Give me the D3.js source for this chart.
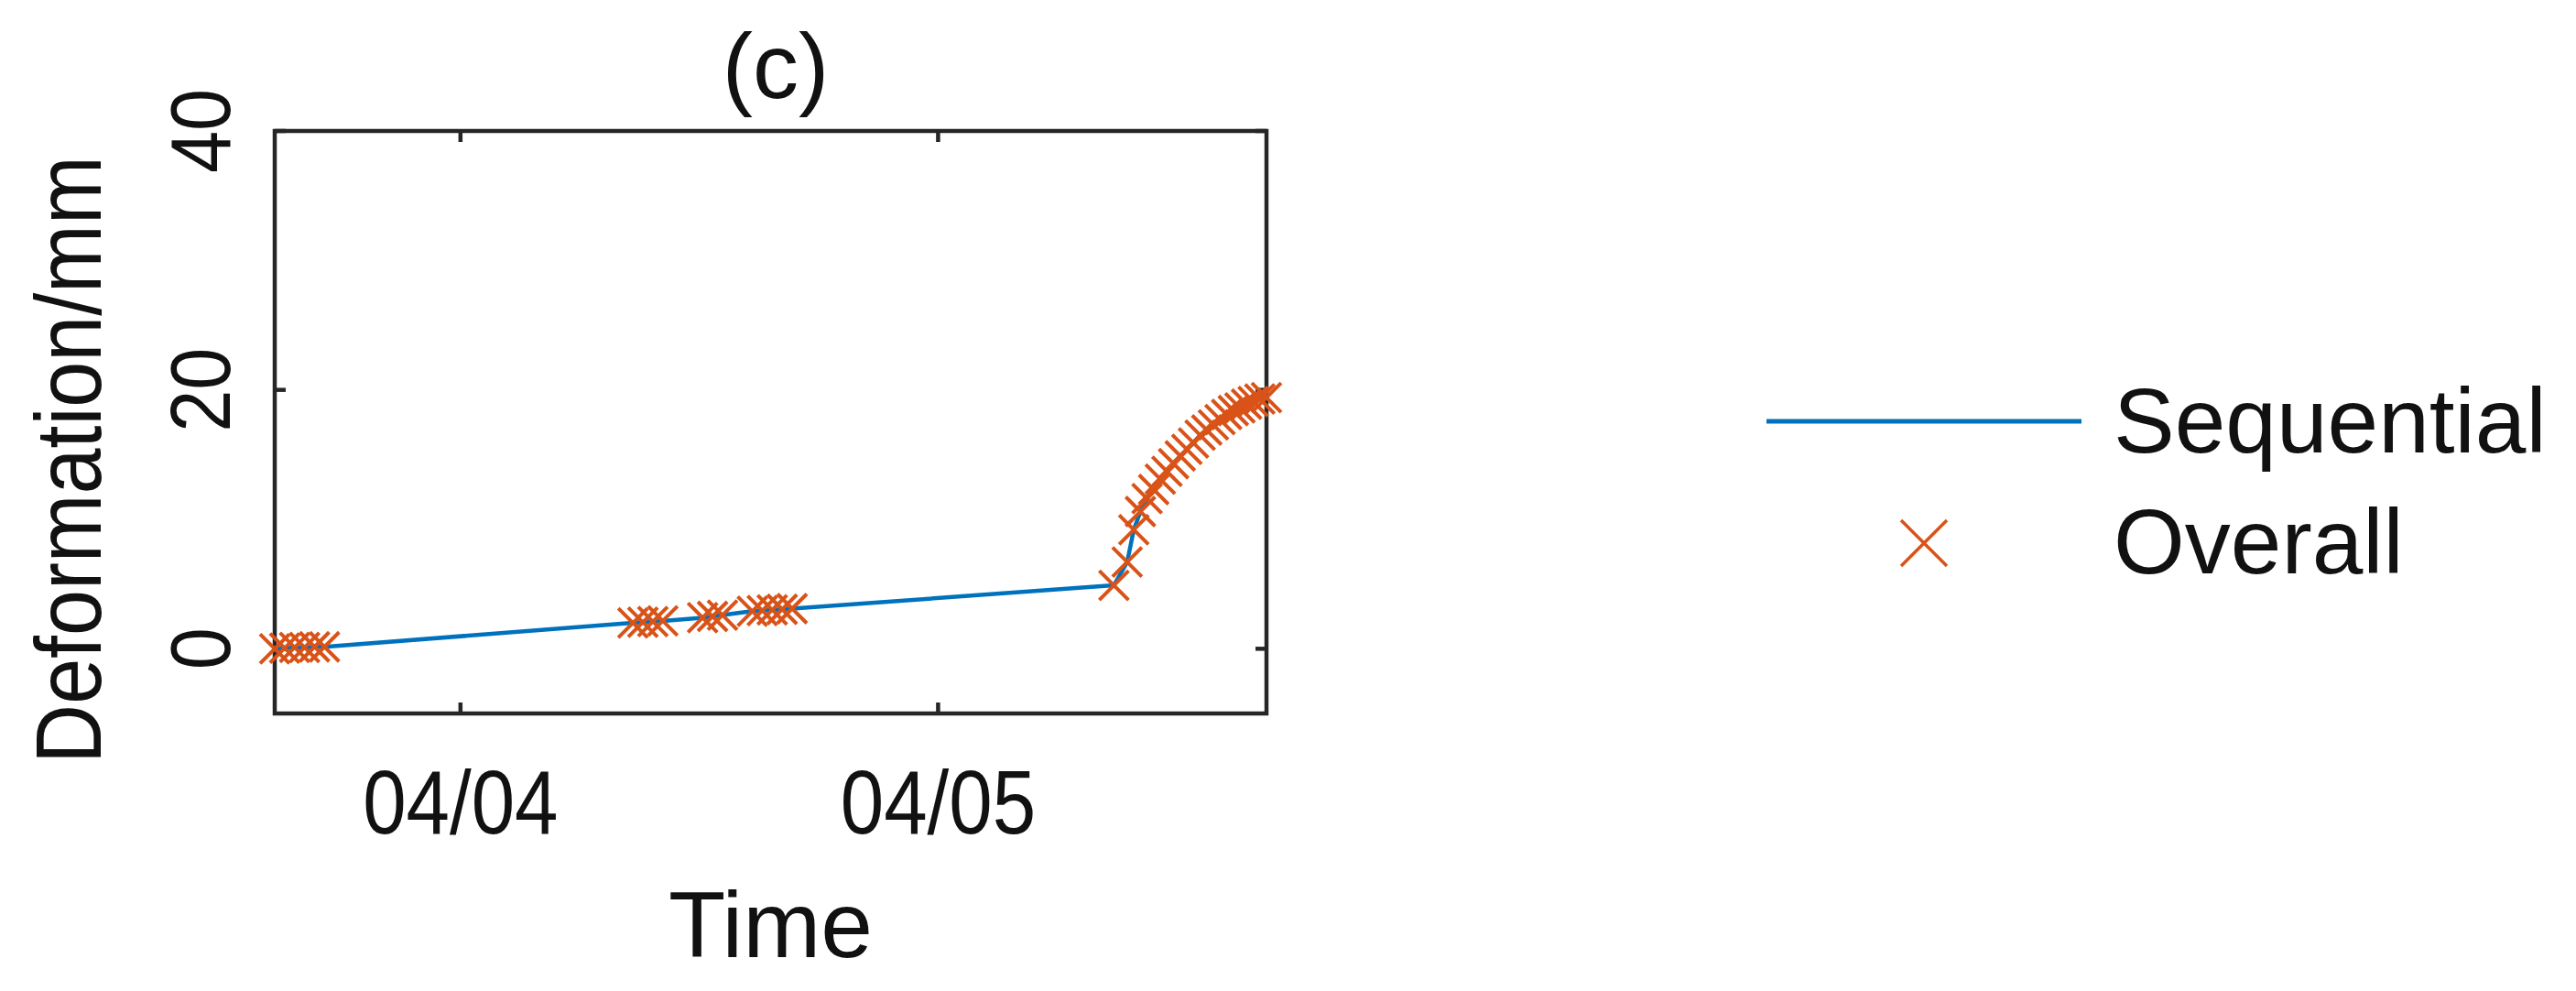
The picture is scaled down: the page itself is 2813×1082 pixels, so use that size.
<!DOCTYPE html>
<html>
<head>
<meta charset="utf-8">
<script src="https://cdn.jsdelivr.net/npm/d3@7"></script>
<style>
  html, body { margin: 0; padding: 0; background: #fff; }
  svg { display: block; }
  text { font-family: "Liberation Sans", Arial, Helvetica, sans-serif; fill: #111; }
</style>
</head>
<body>
<svg id="chart" width="2813" height="1082"></svg>
<script>
// ---- data ----
const times = [
  "04/03 14:40","04/03 15:10","04/03 15:40","04/03 16:10","04/03 16:40","04/03 17:10",
  "04/04 08:40","04/04 09:10","04/04 09:40","04/04 10:10",
  "04/04 12:10","04/04 12:40","04/04 13:10",
  "04/04 14:40","04/04 15:10","04/04 15:40","04/04 16:10","04/04 16:40",
  "04/05 08:50","04/05 09:30",
  "04/05 09:50","04/05 10:10","04/05 10:30","04/05 10:50","04/05 11:10","04/05 11:30",
  "04/05 11:50","04/05 12:10","04/05 12:30","04/05 12:50","04/05 13:10","04/05 13:30",
  "04/05 13:50","04/05 14:10","04/05 14:30","04/05 14:50","04/05 15:10","04/05 15:30",
  "04/05 15:50","04/05 16:10","04/05 16:30"
];
const sequential = [
  0.0, 0.05, 0.1, 0.1, 0.15, 0.15,
  2.0, 2.05, 2.1, 2.15,
  2.4, 2.5, 2.6,
  2.9, 2.95, 3.0, 3.05, 3.1,
  4.9, 6.7,
  9.2, 10.6, 11.6, 12.3, 13.1, 13.7,
  14.3, 14.9, 15.4, 15.9, 16.5, 16.9,
  17.3, 17.7, 18.1, 18.4, 18.6, 18.9,
  19.1, 19.3, 19.4
];
const overall = [
  0.0, 0.05, 0.1, 0.1, 0.15, 0.15,
  2.0, 2.05, 2.1, 2.15,
  2.4, 2.5, 2.6,
  2.9, 2.95, 3.0, 3.05, 3.1,
  4.9, 6.7,
  9.2, 10.6, 11.6, 12.3, 13.1, 13.7,
  14.3, 14.9, 15.4, 15.9, 16.5, 16.9,
  17.3, 17.7, 18.1, 18.4, 18.6, 18.9,
  19.1, 19.3, 19.4
];
const xTickTimes = ["04/04 00:00", "04/05 00:00"];
const xTickLabels = ["04/04", "04/05"];
const yTicks = [0, 20, 40];
const yTickLabels = ["0", "20", "40"];
const yDomain = [-5, 40];
const seriesNames = ["Sequential", "Overall"];
const titleText = "(c)";
const xLabelText = "Time";
const yLabelText = "Deformation/mm";

(function () {
  // ---- layout ----
  const parse = d3.timeParse("%m/%d %H:%M");
  const T = times.map(parse);
  const pL = 300, pR = 1383, pT = 143, pB = 779;
  const axisColor = "#262626";
  const blue = "#0072BD", orange = "#D95319";

  const svg = d3.select("#chart");
  const x = d3.scaleTime().domain(d3.extent(T)).range([pL, pR]);
  const y = d3.scaleLinear().domain(yDomain).range([pB, pT]);

  const tickLen = 12;
  const xt = xTickTimes.map(parse);

  // axes box (drawn below data)
  const g = svg.append("g");
  g.append("rect").attr("x", pL).attr("y", pT).attr("width", pR - pL).attr("height", pB - pT)
    .attr("fill", "none").attr("stroke", axisColor).attr("stroke-width", 4.5);

  // ticks (inward, mirrored on all sides)
  xt.forEach(t => {
    const px = x(t);
    g.append("line").attr("x1", px).attr("x2", px).attr("y1", pB).attr("y2", pB - tickLen)
      .attr("stroke", axisColor).attr("stroke-width", 4.5);
    g.append("line").attr("x1", px).attr("x2", px).attr("y1", pT).attr("y2", pT + tickLen)
      .attr("stroke", axisColor).attr("stroke-width", 4.5);
  });
  yTicks.forEach(v => {
    const py = y(v);
    g.append("line").attr("x1", pL).attr("x2", pL + tickLen).attr("y1", py).attr("y2", py)
      .attr("stroke", axisColor).attr("stroke-width", 4.5);
    g.append("line").attr("x1", pR).attr("x2", pR - tickLen).attr("y1", py).attr("y2", py)
      .attr("stroke", axisColor).attr("stroke-width", 4.5);
  });

  // tick labels (slightly condensed, like the reference's font)
  xt.forEach((t, i) => {
    svg.append("text").attr("transform", `translate(${x(t)},910) scale(0.87,1)`)
      .attr("text-anchor", "middle").attr("font-size", 98).text(xTickLabels[i]);
  });
  yTicks.forEach((v, i) => {
    svg.append("text").attr("transform", `translate(251,${y(v)}) rotate(-90) scale(0.9,1)`)
      .attr("text-anchor", "middle").attr("font-size", 92).text(yTickLabels[i]);
  });

  // labels & title
  svg.append("text").attr("x", (pL + pR) / 2).attr("y", 1045).attr("text-anchor", "middle")
    .attr("font-size", 102).text(xLabelText);
  svg.append("text").attr("transform", `translate(110,502) rotate(-90) scale(0.88,1)`)
    .attr("text-anchor", "middle").attr("font-size", 102).text(yLabelText);
  svg.append("text").attr("x", 847).attr("y", 107).attr("text-anchor", "middle")
    .attr("font-size", 100).text(titleText);

  // data: line
  const line = d3.line().x((d, i) => x(T[i])).y(d => y(d)).curve(d3.curveLinear);
  svg.append("path").datum(sequential).attr("d", line)
    .attr("fill", "none").attr("stroke", blue).attr("stroke-width", 4.5).attr("stroke-linejoin", "round");

  // data: markers (x)
  const mh = 16;
  const crossPath = h => `M${-h},${-h}L${h},${h}M${-h},${h}L${h},${-h}`;
  svg.append("g").selectAll("path").data(overall).join("path")
    .attr("transform", (d, i) => `translate(${x(T[i])},${y(d)})`)
    .attr("d", crossPath(mh))
    .attr("fill", "none").attr("stroke", orange).attr("stroke-width", 4);

  // legend
  const lg = svg.append("g");
  lg.append("line").attr("x1", 1929).attr("x2", 2273).attr("y1", 460).attr("y2", 460)
    .attr("stroke", blue).attr("stroke-width", 5);
  lg.append("text").attr("x", 2308).attr("y", 494).attr("font-size", 100).text(seriesNames[0]);
  lg.append("path").attr("transform", "translate(2101,593)").attr("d", crossPath(25))
    .attr("fill", "none").attr("stroke", orange).attr("stroke-width", 3.5);
  lg.append("text").attr("x", 2308).attr("y", 626).attr("font-size", 100).text(seriesNames[1]);
})();
</script>
</body>
</html>
